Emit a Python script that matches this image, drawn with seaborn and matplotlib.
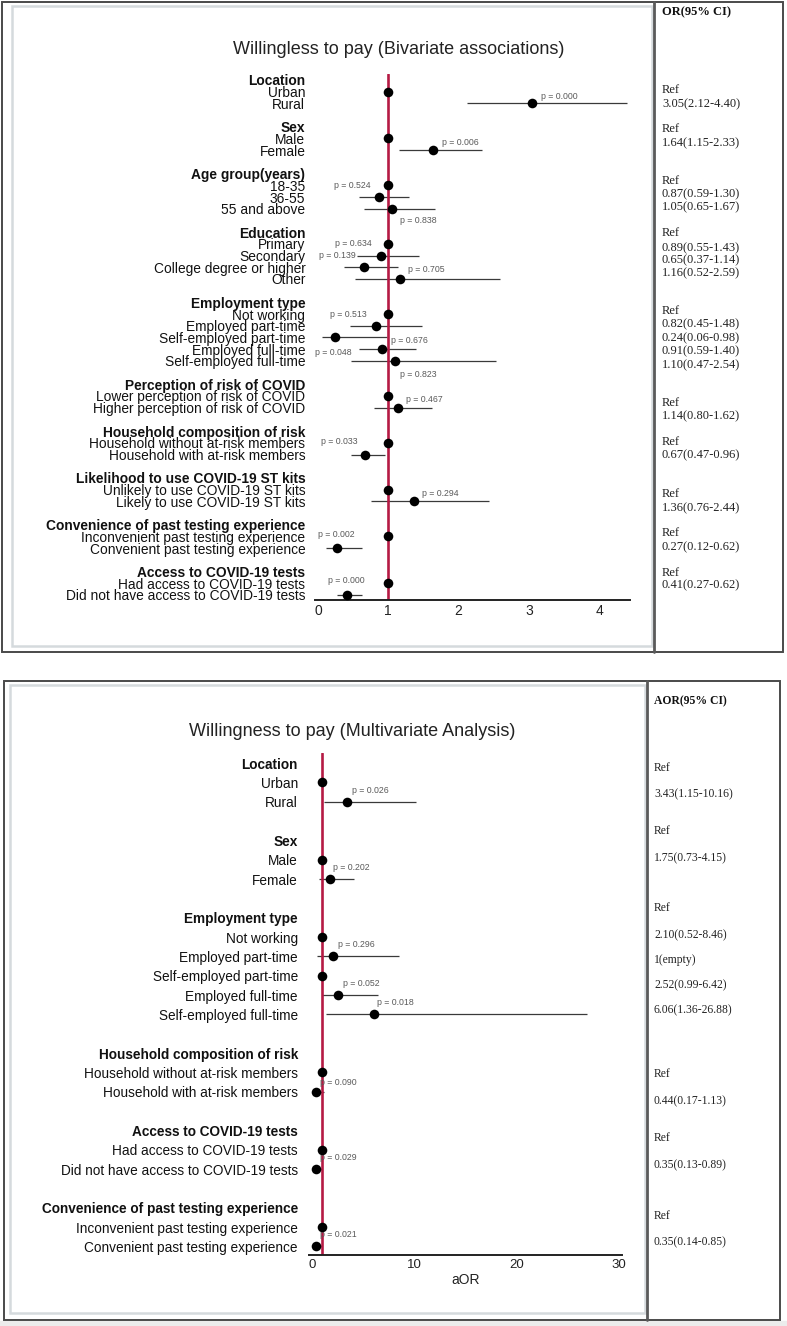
import numpy as np
import pandas as pd
import matplotlib
matplotlib.use("Agg")
import matplotlib.pyplot as plt
import matplotlib.transforms as mtransforms
from matplotlib.patches import Rectangle
from matplotlib.lines import Line2D
import seaborn as sns

sns.set_theme(style="white")
plt.rcParams["font.family"] = ["Liberation Sans", "DejaVu Sans"]

# ---------------- data: bivariate (OR) ----------------
biv_groups = ["Location", "Sex", "Age group(years)", "Education", "Employment type",
              "Perception of risk of COVID", "Household composition of risk",
              "Likelihood to use COVID-19 ST kits", "Convenience of past testing experience",
              "Access to COVID-19 tests"]
biv_items = [["Urban", "Rural"],
             ["Male", "Female"],
             ["18-35", "36-55", "55 and above"],
             ["Primary", "Secondary", "College degree or higher", "Other"],
             ["Not working", "Employed part-time", "Self-employed part-time",
              "Employed full-time", "Self-employed full-time"],
             ["Lower perception of risk of COVID", "Higher perception of risk of COVID"],
             ["Household without at-risk members", "Household with at-risk members"],
             ["Unlikely to use COVID-19 ST kits", "Likely to use COVID-19 ST kits"],
             ["Inconvenient past testing experience", "Convenient past testing experience"],
             ["Had access to COVID-19 tests", "Did not have access to COVID-19 tests"]]
biv_or = [[1, 3.05], [1, 1.64], [1, 0.87, 1.05], [1, 0.89, 0.65, 1.16],
          [1, 0.82, 0.24, 0.91, 1.10], [1, 1.14], [1, 0.67], [1, 1.36], [1, 0.27], [1, 0.41]]
biv_lo = [[None, 2.12], [None, 1.15], [None, 0.59, 0.65], [None, 0.55, 0.37, 0.52],
          [None, 0.45, 0.06, 0.59, 0.47], [None, 0.80], [None, 0.47], [None, 0.76],
          [None, 0.12], [None, 0.27]]
biv_hi = [[None, 4.40], [None, 2.33], [None, 1.30, 1.67], [None, 1.43, 1.14, 2.59],
          [None, 1.48, 0.98, 1.40, 2.54], [None, 1.62], [None, 0.96], [None, 2.44],
          [None, 0.62], [None, 0.62]]
biv_p = ["0.000", "0.006", "0.524", "0.838", "0.634", "0.139", "0.705", "0.513",
         "0.676", "0.048", "0.823", "0.467", "0.033", "0.294", "0.002", "0.000"]

# ---------------- data: multivariate (aOR) ----------------
mv_groups = ["Location", "Sex", "Employment type", "Household composition of risk",
             "Access to COVID-19 tests", "Convenience of past testing experience"]
mv_items = [["Urban", "Rural"],
            ["Male", "Female"],
            ["Not working", "Employed part-time", "Self-employed part-time",
             "Employed full-time", "Self-employed full-time"],
            ["Household without at-risk members", "Household with at-risk members"],
            ["Had access to COVID-19 tests", "Did not have access to COVID-19 tests"],
            ["Inconvenient past testing experience", "Convenient past testing experience"]]
mv_or = [[1, 3.43], [1, 1.75], [1, 2.10, 1, 2.52, 6.06], [1, 0.44], [1, 0.35], [1, 0.35]]
mv_lo = [[None, 1.15], [None, 0.73], [None, 0.52, None, 0.99, 1.36], [None, 0.17],
         [None, 0.13], [None, 0.14]]
mv_hi = [[None, 10.16], [None, 4.15], [None, 8.46, None, 6.42, 26.88], [None, 1.13],
         [None, 0.89], [None, 0.85]]
mv_ref = [[True, False], [True, False], [True, False, False, False, False],
          [True, False], [True, False], [True, False]]
mv_p = ["0.026", "0.202", "0.296", "0.052", "0.018", "0.090", "0.029", "0.021"]

# ---------------- layout (pixel / row positions) ----------------
W, H = 787, 1326
biv_p_pos = [(3.17, 1.37), (1.76, 5.3), (0.23, 9.0), (1.17, 12.0), (0.24, 14.0),
             (0.02, 15.0), (1.28, 16.2), (0.17, 20.0), (1.04, 22.3), (-0.04, 23.3),
             (1.17, 25.2), (1.25, 27.3), (0.04, 30.9), (1.48, 35.3), (0.0, 38.8),
             (0.14, 42.8)]
biv_tab_rows = [0.85, 2.05, 4.2, 5.4, 8.6, 9.8, 10.9, 13.1, 14.4, 15.4, 16.5,
                19.7, 20.9, 22.1, 23.2, 24.4, 27.6, 28.7, 30.9, 32.1, 35.4, 36.6,
                38.7, 39.9, 42.1, 43.2]
mv_p_pos = [(3.9, 1.4), (2.1, 5.4), (2.5, 9.4), (3.0, 11.4), (6.4, 12.4),
            (0.8, 16.5), (0.8, 20.4), (0.8, 24.4)]
mv_tab_rows = [0.26, 1.6, 3.5, 4.9, 7.5, 8.9, 10.2, 11.5, 12.8, 16.1, 17.5,
               19.4, 20.8, 23.4, 24.8]


def fx(x):
    return x / W


def fy(y):
    return 1 - y / H


def build_rows(groups, items, ors, los, his, refs=None):
    recs = []
    r = 0
    for gi, g in enumerate(groups):
        recs.append(dict(row=r, label=g, header=True, est=np.nan, lo=np.nan,
                         hi=np.nan, ref=False))
        r += 1
        for k, it in enumerate(items[gi]):
            lo = los[gi][k]
            hi = his[gi][k]
            is_ref = (k == 0) if refs is None else refs[gi][k]
            recs.append(dict(row=r, label=it, header=False, est=ors[gi][k],
                             lo=np.nan if lo is None else lo,
                             hi=np.nan if hi is None else hi, ref=is_ref))
            r += 1
        r += 1
    return pd.DataFrame(recs)


def table_text(df):
    out = []
    for _, rw in df[~df.header].iterrows():
        if rw.ref:
            out.append("Ref")
        elif np.isnan(rw.lo):
            out.append(f"{rw.est:g}(empty)")
        else:
            out.append(f"{rw.est:.2f}({rw.lo:.2f}-{rw.hi:.2f})")
    return out


def frame(fig, outer, inner, divider):
    l, t, r, b = outer
    fig.add_artist(Rectangle((fx(l), fy(b)), fx(r - l), (b - t) / H, fill=False,
                             ec="#4a4a4a", lw=1.4, transform=fig.transFigure))
    l, t, r, b = inner
    fig.add_artist(Rectangle((fx(l), fy(b)), fx(r - l), (b - t) / H, fill=False,
                             ec="#d5dadd", lw=1.8, transform=fig.transFigure))
    fig.add_artist(Line2D([fx(divider), fx(divider)], [fy(outer[1]), fy(outer[3])],
                          color="#5a5a5a", lw=2.0, transform=fig.transFigure))


def panel(fig, df, box, xlim, ylim, ticks, title, title_xy, pvals, ppos, tab_rows,
          tab_x, head, head_xy, xlabel=None, label_size=9.0, pad=7, tab_size=8.0,
          tick_size=9.0):
    l, t, r, b = box
    ax = fig.add_axes([fx(l), fy(b), (r - l) / W, (b - t) / H])
    ax.axvline(1, color="#b51a44", lw=1.9, zorder=2)
    pts = df[~df.header]
    ci = pts.dropna(subset=["lo"])
    ax.hlines(ci.row, ci.lo, ci.hi, color="#3a3a3a", lw=0.9, zorder=1)
    sns.scatterplot(data=pts, x="est", y="row", color="black", s=48, linewidth=0,
                    ax=ax, zorder=3, clip_on=False)
    ax.set_xlim(*xlim)
    ax.set_ylim(*ylim)
    ax.set_xticks(ticks)
    ax.set_xticklabels([str(v) for v in ticks], fontsize=tick_size, color="#222")
    ax.set_yticks(df.row)
    ax.set_yticklabels(df.label, fontsize=label_size, color="#111")
    for lab, hdr in zip(ax.get_yticklabels(), df.header):
        if hdr:
            lab.set_fontweight("bold")
    ax.tick_params(axis="y", length=0, pad=pad)
    ax.tick_params(axis="x", direction="in", length=4.5, width=1.2, color="#222", pad=3)
    for s in ["top", "left", "right"]:
        ax.spines[s].set_visible(False)
    ax.spines["bottom"].set_color("#222")
    ax.spines["bottom"].set_linewidth(1.4)
    ax.set_xlabel(xlabel if xlabel else "", fontsize=10, labelpad=1, color="#222")
    ax.set_ylabel("")
    ax.grid(False)
    ax.patch.set_alpha(0)

    for pv, (px, pr) in zip(pvals, ppos):
        ax.text(px, pr, f"p = {pv}", fontsize=6.3, color="#5a5a5a", ha="left",
                va="center", clip_on=False, zorder=4)

    fig.text(fx(title_xy[0]), fy(title_xy[1]), title, fontsize=13, color="#222",
             ha="center", va="center")

    blend = mtransforms.blended_transform_factory(fig.transFigure, ax.transData)
    for txt, rr in zip(table_text(df), tab_rows):
        fig.text(fx(tab_x), rr, txt, transform=blend, fontsize=tab_size, color="#222",
                 family="Liberation Serif", ha="left", va="center")
    fig.text(fx(head_xy[0]), fy(head_xy[1]), head, fontsize=tab_size, color="#111",
             family="Liberation Serif", fontweight="bold", ha="left", va="center")
    return ax


fig = plt.figure(figsize=(W / 100, H / 100), dpi=100)
fig.patch.set_facecolor("white")

# gray page background under the lower panel
fig.add_artist(Rectangle((0, 0), 1, fy(1321), color="#ececec", transform=fig.transFigure,
                         zorder=-5))

biv = build_rows(biv_groups, biv_items, biv_or, biv_lo, biv_hi)
mv = build_rows(mv_groups, mv_items, mv_or, mv_lo, mv_hi, mv_ref)

frame(fig, (2, 2, 783, 652), (12, 6, 652, 646), 654)
frame(fig, (4, 681, 780, 1320), (10, 685, 645, 1313), 647)

panel(fig, biv, (315, 74, 630, 600), (-0.043, 4.44), (44.43, -0.51), [0, 1, 2, 3, 4],
      "Willingless to pay (Bivariate associations)", (399, 49), biv_p, biv_p_pos,
      biv_tab_rows, 662, "OR(95% CI)", (662, 12), label_size=9.9, pad=7,
      tab_size=9.0, tick_size=10)

panel(fig, mv, (309, 753, 622, 1255), (-0.29, 30.3), (25.44, -0.52), [0, 10, 20, 30],
      "Willingness to pay (Multivariate Analysis)", (352, 732), mv_p, mv_p_pos,
      mv_tab_rows, 654, "AOR(95% CI)", (654, 701), xlabel="aOR", label_size=9.8,
      pad=8, tab_size=8.4, tick_size=9.5)

fig.savefig("out.png", dpi=100)
